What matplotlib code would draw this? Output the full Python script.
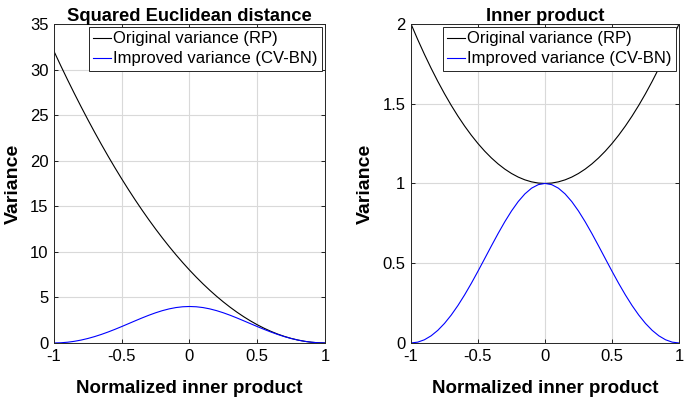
import numpy as np
import matplotlib.pyplot as plt

plt.rcParams['font.family'] = ['Liberation Sans', 'DejaVu Sans']

# normalized inner product, step 0.05
x = [-1.0, -0.95, -0.9, -0.85, -0.8, -0.75, -0.7, -0.65, -0.6, -0.55, -0.5,
     -0.45, -0.4, -0.35, -0.3, -0.25, -0.2, -0.15, -0.1, -0.05, 0.0,
     0.05, 0.1, 0.15, 0.2, 0.25, 0.3, 0.35, 0.4, 0.45, 0.5,
     0.55, 0.6, 0.65, 0.7, 0.75, 0.8, 0.85, 0.9, 0.95, 1.0]

# squared euclidean distance
sq_rp = [32, 30.42, 28.88, 27.38, 25.92, 24.5, 23.12, 21.78, 20.48, 19.22, 18,
         16.82, 15.68, 14.58, 13.52, 12.5, 11.52, 10.58, 9.68, 8.82, 8,
         7.22, 6.48, 5.78, 5.12, 4.5, 3.92, 3.38, 2.88, 2.42, 2,
         1.62, 1.28, 0.98, 0.72, 0.5, 0.32, 0.18, 0.08, 0.02, 0]
sq_cv = [0, 0.020, 0.080, 0.179, 0.316, 0.49, 0.698, 0.938, 1.205, 1.494, 1.8,
         2.116, 2.433, 2.744, 3.039, 3.309, 3.545, 3.738, 3.882, 3.97, 4,
         3.97, 3.882, 3.738, 3.545, 3.309, 3.039, 2.744, 2.433, 2.116, 1.8,
         1.494, 1.205, 0.938, 0.698, 0.49, 0.316, 0.179, 0.080, 0.020, 0]

# inner product
ip_rp = [2, 1.9025, 1.81, 1.7225, 1.64, 1.5625, 1.49, 1.4225, 1.36, 1.3025, 1.25,
         1.2025, 1.16, 1.1225, 1.09, 1.0625, 1.04, 1.0225, 1.01, 1.0025, 1,
         1.0025, 1.01, 1.0225, 1.04, 1.0625, 1.09, 1.1225, 1.16, 1.2025, 1.25,
         1.3025, 1.36, 1.4225, 1.49, 1.5625, 1.64, 1.7225, 1.81, 1.9025, 2]
ip_cv = [0, 0.005, 0.0199, 0.0447, 0.079, 0.1225, 0.1746, 0.2345, 0.3012, 0.3735, 0.45,
         0.5289, 0.6083, 0.686, 0.7597, 0.8272, 0.8862, 0.9345, 0.9704, 0.9925, 1,
         0.9925, 0.9704, 0.9345, 0.8862, 0.8272, 0.7597, 0.686, 0.6083, 0.5289, 0.45,
         0.3735, 0.3012, 0.2345, 0.1746, 0.1225, 0.079, 0.0447, 0.0199, 0.005, 0]

fig = plt.figure(figsize=(6.85, 4.03), dpi=100)
ax1 = fig.add_axes([0.0788, 0.149, 0.3956, 0.7916])
ax2 = fig.add_axes([0.600, 0.149, 0.3912, 0.7916])

panels = [
    (ax1, sq_rp, sq_cv, 'Squared Euclidean distance', [0, 35], np.arange(0, 36, 5), ['0', '5', '10', '15', '20', '25', '30', '35']),
    (ax2, ip_rp, ip_cv, 'Inner product', [0, 2], [0, 0.5, 1, 1.5, 2], ['0', '0.5', '1', '1.5', '2']),
]

for ax, rp, cv, title, ylim, yt, ytl in panels:
    ax.plot(x, rp, color='black', lw=0.8, label='Original variance (RP)')
    ax.plot(x, cv, color='#0000ff', lw=0.8, label='Improved variance (CV-BN)')
    ax.set_xlim(-1, 1)
    ax.set_ylim(ylim)
    ax.set_xticks([-1, -0.5, 0, 0.5, 1])
    ax.set_xticklabels(['-1', '-0.5', '0', '0.5', '1'])
    ax.set_yticks(yt)
    ax.set_yticklabels(ytl)
    ax.grid(True, color='#d9d9d9', lw=0.8)
    ax.set_axisbelow(True)
    ax.tick_params(direction='in', top=True, right=True, labelsize=12, length=3, width=0.6, pad=4)
    for s in ax.spines.values():
        s.set_linewidth(0.7)
        s.set_color('#262626')
    ax.set_title(title, fontsize=13.2, fontweight='bold', pad=2)
    ax.set_xlabel('Normalized inner product', fontsize=13.5, fontweight='bold', labelpad=12)
    ax.set_ylabel('Variance', fontsize=14, fontweight='bold', labelpad=6)
    leg = ax.legend(loc='upper right', fontsize=12, fancybox=False, framealpha=1,
                    edgecolor='#262626', borderpad=0.25, labelspacing=0.3,
                    handlelength=1.1, handletextpad=0.1, borderaxespad=0.2)
    leg.get_frame().set_linewidth(0.7)

fig.savefig('out.png', dpi=100)
